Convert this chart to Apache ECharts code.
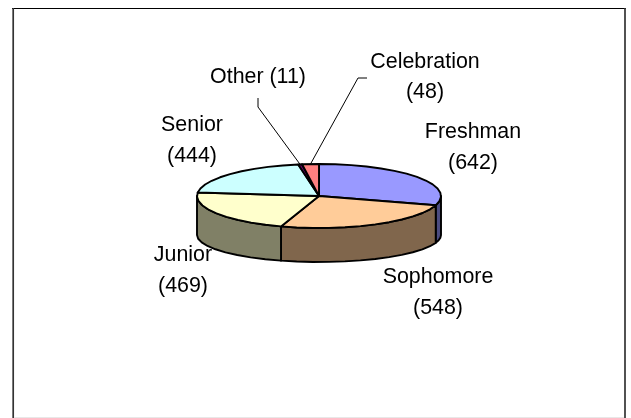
<!DOCTYPE html>
<html><head><meta charset="utf-8">
<style>html,body{margin:0;padding:0;background:#fff}#c{width:631px;height:418px}</style>
<script src="https://cdn.jsdelivr.net/npm/echarts@6/dist/echarts.min.js"></script></head>
<body><div id="c"></div><script>
var categories=['Freshman','Sophomore','Junior','Senior','Other','Celebration'];
var values=[642,548,469,444,11,48];
var topColors=['#9999FF','#FFCC99','#FFFFCC','#CCFFFF','#660066','#FF8080'];
var sideColors=['#4C4C80','#80664C','#808066','#668080','#330033','#804040'];
var labelCenters=[[473,132.5],[438,277.5],[183,255.5],[192,125.5],[258,77.5],[425,62]];
var leaderStarts=[null,null,null,null,[[258,98],[258,107]],[[367,78],[358,78]]];

var cx=319,cy=196,rx=122,ry=32,botCy=235,botRy=27,lineH=30.5;
var total=values.reduce(function(a,b){return a+b},0);
function pt(a){return [cx+rx*Math.sin(a),cy-ry*Math.cos(a)];}
function ptBot(a){return [cx+rx*Math.sin(a),botCy-botRy*Math.cos(a)];}
function arc(a0,a1,fn){var n=Math.max(1,Math.ceil((a1-a0)/0.14)),r=[];
  for(var i=0;i<=n;i++){r.push(fn(a0+(a1-a0)*i/n));}return r;}
var starts=[],s=0;values.forEach(function(v){starts.push(s);s+=v/total*Math.PI*2;});

var chart=echarts.init(document.getElementById('c'),null,{renderer:'canvas'});
function sty(fill){return {fill:fill,stroke:'#000',lineWidth:1.9,lineJoin:'round'};}
function renderItem(params,api){
  var i=params.dataIndex,v=api.value(0),a0=starts[i],a1=a0+v/total*Math.PI*2,ch=[];
  var f0=Math.max(a0,Math.PI/2),f1=Math.min(a1,Math.PI*1.5);
  if(f1>f0){
    var top=arc(f0,f1,pt),bot=arc(f0,f1,ptBot).reverse();
    ch.push({type:'polygon',shape:{points:top.concat(bot)},style:sty(sideColors[i])});
  }
  ch.push({type:'polygon',shape:{points:[[cx,cy]].concat(arc(a0,a1,pt))},style:sty(topColors[i])});
  return {type:'group',children:ch};
}
function labelItem(params,api){
  var i=params.dataIndex,c=labelCenters[i],ch=[];
  var font='21.4px "Liberation Sans", Arial, sans-serif';
  var mk=function(t,x,y){return {type:'text',style:{text:t,x:x,y:y,align:'center',verticalAlign:'middle',font:font,fill:'#000'}};};
  if(categories[i]==='Other'){ch.push(mk(categories[i]+' ('+api.value(0)+')',c[0],c[1]));}
  else{ch.push(mk(categories[i],c[0],c[1]));ch.push(mk('('+api.value(0)+')',c[0],c[1]+lineH));}
  if(leaderStarts[i]){
    var mid=starts[i]+values[i]/total*Math.PI;
    ch.push({type:'polyline',shape:{points:leaderStarts[i].concat([pt(mid)])},style:{stroke:'#000',lineWidth:1,fill:null}});
  }
  return {type:'group',children:ch};
}
chart.setOption({
  animation:false,
  graphic:[
    {type:'line',shape:{x1:12,y1:8.5,x2:626,y2:8.5},style:{stroke:'#000',lineWidth:1}},
    {type:'line',shape:{x1:13.2,y1:8,x2:13.2,y2:418},style:{stroke:'#333',lineWidth:1.7}},
    {type:'line',shape:{x1:625,y1:8,x2:625,y2:418},style:{stroke:'#333',lineWidth:1.7}},
    {type:'line',shape:{x1:14,y1:417.5,x2:624,y2:417.5},style:{stroke:'#e8e8e8',lineWidth:1}}
  ],
  series:[
    {type:'custom',coordinateSystem:'none',renderItem:renderItem,data:values.map(function(v){return [v];}),z:2},
    {type:'custom',coordinateSystem:'none',renderItem:labelItem,data:values.map(function(v){return [v];}),z:3}
  ]
});
</script></body></html>
